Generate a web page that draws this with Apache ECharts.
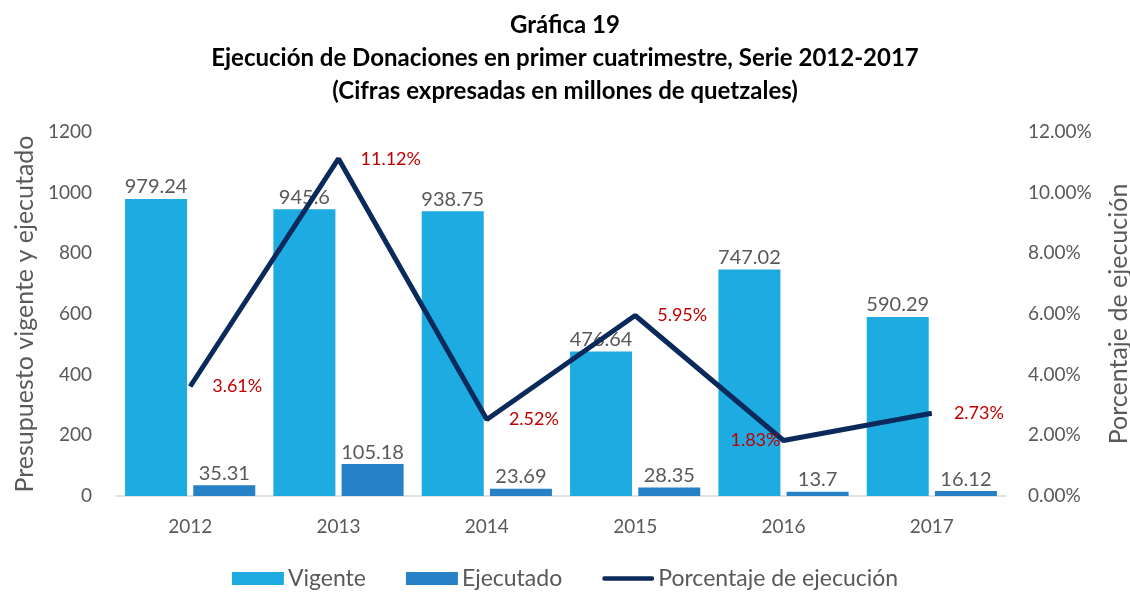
<!DOCTYPE html>
<html>
<head>
<meta charset="utf-8">
<script src="https://cdn.jsdelivr.net/npm/echarts@6/dist/echarts.min.js"></script>
<style>
  html, body { margin: 0; padding: 0; background: #fff; }
  #chart { width: 1130px; height: 592px; }
</style>
</head>
<body>
<div id="chart"></div>
<script>
var chart = echarts.init(document.getElementById('chart'));

var years = ['2012', '2013', '2014', '2015', '2016', '2017'];
var vigente = [979.24, 945.6, 938.75, 476.64, 747.02, 590.29];
var ejecutado = [35.31, 105.18, 23.69, 28.35, 13.7, 16.12];
var porcentaje = [3.61, 11.12, 2.52, 5.95, 1.83, 2.73];
var pctLabelPos = ['right', 'right', 'right', 'right', 'left', 'right'];

var fontName = 'Lato, "Open Sans", sans-serif';
var gray = '#595959';

var pctData = porcentaje.map(function (v, i) {
    return {
        value: v,
        label: { position: pctLabelPos[i], distance: i === 4 ? 3 : 22 }
    };
});

var option = {
    backgroundColor: '#fff',
    title: {
        text: 'Gráfica 19\nEjecución de Donaciones en primer cuatrimestre, Serie 2012-2017\n(Cifras expresadas en millones de quetzales)',
        left: 'center',
        top: 4,
        textStyle: {
            fontFamily: fontName,
            fontSize: 24,
            fontWeight: 'bold',
            color: '#000',
            lineHeight: 33
        }
    },
    legend: {
        top: 562,
        left: 'center',
        itemGap: 40,
        itemWidth: 52,
        itemHeight: 13,
        textStyle: { fontFamily: fontName, fontSize: 23, color: gray, padding: [0, 0, 0, -1] },
        data: [
            { name: 'Vigente', icon: 'rect' },
            { name: 'Ejecutado', icon: 'rect' },
            { name: 'Porcentaje de ejecución', icon: 'path://M3,0 h64 a3,3 0 0 1 0,6 h-64 a3,3 0 0 1 0,-6 z' }
        ]
    },
    grid: { left: 116, right: 124, top: 132, bottom: 96, outerBoundsMode: 'none' },
    xAxis: {
        type: 'category',
        data: years,
        axisLine: { lineStyle: { color: '#D9D9D9', width: 1.5 } },
        axisTick: { show: false },
        axisLabel: { fontFamily: fontName, fontSize: 19, color: gray, margin: 21 }
    },
    yAxis: [
        {
            type: 'value',
            min: 0,
            max: 1200,
            interval: 200,
            name: 'Presupuesto vigente y ejecutado',
            nameLocation: 'middle',
            nameGap: 69,
            nameTextStyle: { fontFamily: fontName, fontSize: 25, color: gray },
            splitLine: { show: false },
            axisLine: { show: false },
            axisTick: { show: false },
            axisLabel: {
                fontFamily: fontName, fontSize: 19, color: gray, margin: 24,
                formatter: function (v) { return String(v); }
            }
        },
        {
            type: 'value',
            min: 0,
            max: 12,
            interval: 2,
            name: 'Porcentaje de ejecución',
            nameLocation: 'middle',
            nameGap: 100,
            nameRotate: 90,
            nameTextStyle: { fontFamily: fontName, fontSize: 25, color: gray },
            splitLine: { show: false },
            axisLine: { show: false },
            axisTick: { show: false },
            axisLabel: {
                fontFamily: fontName, fontSize: 19, color: gray, margin: 22,
                formatter: function (v) { return v.toFixed(2) + '%'; }
            }
        }
    ],
    series: [
        {
            name: 'Vigente',
            type: 'bar',
            data: vigente,
            barWidth: 62,
            barGap: '10%',
            itemStyle: { color: '#1DABE2' },
            label: {
                show: true,
                position: 'top',
                distance: 2,
                fontFamily: fontName,
                fontSize: 20,
                color: gray
            }
        },
        {
            name: 'Ejecutado',
            type: 'bar',
            data: ejecutado,
            barWidth: 62,
            itemStyle: { color: '#2681C6' },
            label: {
                show: true,
                position: 'top',
                distance: 2,
                fontFamily: fontName,
                fontSize: 20,
                color: gray
            }
        },
        {
            name: 'Porcentaje de ejecución',
            type: 'line',
            yAxisIndex: 1,
            data: pctData,
            symbol: 'circle',
            symbolSize: 0.1,
            showSymbol: true,
            lineStyle: { color: '#0A2A5C', width: 5 },
            itemStyle: { color: '#0A2A5C' },
            label: {
                show: true,
                fontFamily: fontName,
                fontSize: 18,
                color: '#C00000',
                formatter: function (p) { return p.value.toFixed(2) + '%'; }
            },
            z: 5
        }
    ]
};

chart.setOption(option);
</script>
</body>
</html>
